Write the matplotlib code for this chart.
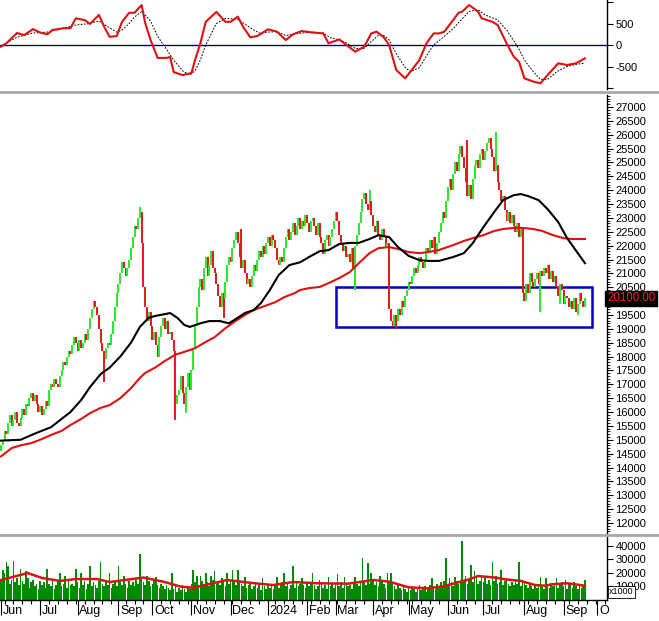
import numpy as np
import pandas as pd
import matplotlib
matplotlib.use("Agg")
import matplotlib.pyplot as plt
from matplotlib.collections import LineCollection
from matplotlib.patches import Rectangle
from matplotlib.lines import Line2D
from matplotlib.ticker import MultipleLocator, FixedLocator
import matplotlib.transforms as mtransforms

plt.rcParams['font.family'] = ['Liberation Sans', 'DejaVu Sans']

# ---------------- data ----------------
first_open = 14600
closes = [
    14800, 15000, 15300, 15200, 15600, 15900, 15500, 15700, 16000, 15600,
    15500, 15800, 16100, 15900, 16300, 16200, 16500, 16700, 16400, 16600,
    16300, 16000, 16200, 15900, 16100, 16400, 16200, 16800, 17000, 16900,
    17200, 17000, 16900, 17300, 17500, 17800, 17700, 18000, 18200, 18100,
    18400, 18700, 18500, 18200, 18600, 18300, 18500, 18800, 18600, 19000,
    19400, 19700, 20000, 19800, 19500, 19000, 18500, 18200, 17900, 18300,
    18500, 18400, 18800, 19300, 19800, 20300, 20600, 21000, 21400, 21200,
    20900, 21200, 21500, 21900, 22300, 22700, 22600, 23000, 23200, 22100,
    20500, 19800, 19300, 19600, 19100, 18600, 18900, 18400, 18000, 18700,
    19100, 19400, 19000, 19300, 18800, 18900, 18600, 18200, 16300, 16600,
    16800, 17300, 16700, 16300, 16900, 17400, 16800, 17500, 18300, 19100,
    19800, 20500, 20800, 20400, 21200, 21600, 20900, 21300, 21800, 21200,
    21000, 20600, 20200, 19800, 20300, 20100, 20700, 21300, 21600, 21400,
    21900, 22200, 22500, 22100, 21600, 21200, 21500, 21000, 20600, 20800,
    20500, 20900, 21300, 21100, 21500, 21800, 21600, 22000, 21700, 22100,
    22300, 22000, 22400, 22200, 21900, 21500, 21300, 21600, 21400, 21900,
    22300, 22600, 22200, 22500, 22800, 22400, 22700, 23000, 22600, 22900,
    22700, 23100, 22800, 22500, 22900, 23000, 22700, 22400, 22800, 22300,
    22100, 21700, 22200, 22400, 22000, 22300, 22600, 22900, 23200, 22900,
    22400, 22100, 21800, 22000, 21600, 21700, 21400, 21900, 21200, 22000,
    22400, 22800, 23200, 23700, 23900, 23500, 23300, 23600, 23100, 22700,
    22500, 22900, 22400, 22200, 22600, 22300, 22000, 22100, 19700, 19300,
    19100, 19500, 19300, 19700, 19500, 20000, 19800, 20200, 20400, 20700,
    20600, 20900, 21200, 21000, 21300, 21600, 21400, 21200, 21500, 21900,
    21800, 22200, 21900, 22300, 21700, 22100, 22500, 22800, 23200, 23000,
    23600, 24100, 24400, 24000, 24600, 25000, 24700, 25300, 25600, 25200,
    24800, 24300, 23800, 24200, 23700, 24400, 24900, 25100, 24800, 25300,
    25500, 25100, 25400, 25700, 25900, 25500, 25200, 24700, 24900, 24300,
    24000, 23600, 23800, 23300, 22900, 23200, 22800, 23100, 22700, 22500,
    22800, 22300, 22600, 20300, 20000, 20600, 20300, 21000, 20700, 20500,
    20800, 21000, 20600, 21100, 20900, 21200, 21000, 21300, 20800, 21100,
    20700, 20900, 20500, 20200, 20600, 20400, 19900, 20200, 20100, 19800,
    20000, 19700, 20100, 19600, 19900, 20300, 20000, 19800, 20100,
]
wick_bars = [58, 78, 98, 104, 125, 135, 199, 207, 222, 262, 278, 303, 314, 324]
wick_prices = [17100, 23400, 15700, 15950, 19400, 22600, 20400, 24000, 19000,
               25800, 26100, 19600, 19900, 19500]

volumes_k = [
    14, 22, 20, 28, 25, 12, 15, 29, 13, 16,
    11, 23, 14, 12, 21, 16, 9, 13, 15, 10,
    12, 8, 14, 11, 13, 9, 23, 12, 10, 14,
    8, 11, 13, 20, 10, 12, 18, 9, 14, 11,
    12, 10, 23, 13, 9, 20, 11, 14, 8, 12,
    25, 10, 13, 11, 9, 14, 28, 12, 10, 13,
    11, 20, 9, 12, 14, 10, 25, 13, 11, 18,
    12, 9, 14, 11, 13, 10, 15, 12, 34, 16,
    13, 11, 18, 14, 10, 12, 15, 17, 11, 9,
    12, 10, 8, 11, 9, 7, 20, 8, 10, 6,
    9, 7, 11, 8, 6, 10, 8, 12, 22, 13,
    18, 11, 18, 14, 12, 20, 13, 10, 18, 15,
    21, 12, 14, 11, 16, 13, 10, 20, 12, 14,
    22, 13, 11, 22, 15, 12, 10, 17, 9, 11,
    13, 8, 10, 12, 9, 11, 7, 16, 10, 8,
    11, 9, 12, 8, 10, 17, 9, 11, 13, 20,
    10, 12, 8, 11, 25, 9, 13, 10, 12, 16,
    11, 9, 13, 10, 12, 20, 11, 8, 10, 15,
    12, 9, 11, 8, 17, 10, 12, 9, 11, 19,
    10, 13, 9, 17, 12, 10, 11, 8, 13, 17,
    12, 10, 14, 31, 13, 11, 27, 12, 20, 14,
    11, 13, 10, 18, 14, 12, 9, 20, 13, 20,
    12, 10, 8, 11, 9, 7, 10, 8, 6, 9,
    7, 10, 8, 6, 9, 11, 7, 8, 10, 6,
    9, 11, 16, 10, 8, 12, 9, 13, 11, 14,
    31, 12, 16, 13, 10, 17, 14, 12, 15, 43,
    14, 18, 12, 15, 26, 13, 21, 16, 12, 14,
    17, 13, 16, 12, 15, 11, 28, 14, 18, 12,
    13, 22, 11, 14, 15, 12, 10, 13, 11, 14,
    12, 28, 10, 14, 13, 11, 9, 12, 10, 8,
    11, 9, 12, 17, 10, 8, 16, 11, 9, 12,
    10, 12, 16, 9, 11, 13, 10, 15, 8, 12,
    11, 9, 13, 10, 8, 12, 9, 11, 15,
]

ma_short_bars = [0, 11, 20, 28, 34, 39, 45, 50, 56, 61, 67, 73, 78, 83, 87, 92, 95, 99, 103, 106,
                 112, 117, 123, 128, 133, 137, 142, 146, 151, 156, 162, 168, 173, 179, 184, 190,
                 196, 201, 207, 212, 218, 223, 229, 235, 240, 246, 254, 260, 265, 271, 277, 282,
                 288, 292, 296, 302, 307, 313, 318, 324, 328]
ma_short = [14970, 15000, 15250, 15450, 15750, 16000, 16430, 16900, 17370, 17600, 18000, 18500,
            19070, 19400, 19470, 19530, 19570, 19400, 19140, 19070, 19200, 19280, 19280, 19200,
            19400, 19570, 19680, 19930, 20400, 20940, 21300, 21400, 21590, 21800, 21840, 22060,
            22100, 22100, 22240, 22380, 22310, 21950, 21630, 21480, 21450, 21450, 21590, 21730,
            22090, 22670, 23210, 23640, 23820, 23860, 23790, 23640, 23320, 22850, 22270, 21730,
            21370]
ma_long_bars = [0, 6, 11, 17, 22, 28, 34, 39, 45, 50, 56, 61, 67, 73, 78, 81, 87, 92, 98, 103,
                109, 115, 120, 126, 131, 137, 142, 148, 154, 159, 165, 168, 173, 179, 184, 190,
                196, 201, 207, 212, 218, 223, 229, 235, 240, 246, 249, 254, 260, 265, 271, 277,
                282, 288, 293, 299, 304, 310, 316, 321, 328]
ma_long = [14400, 14700, 14800, 14880, 15000, 15170, 15320, 15530, 15750, 15960, 16150, 16250,
           16500, 16860, 17230, 17410, 17620, 17840, 18070, 18170, 18300, 18530, 18700, 19020,
           19250, 19500, 19680, 19820, 19960, 20140, 20290, 20400, 20470, 20510, 20650, 20830,
           21050, 21370, 21730, 21910, 21950, 21880, 21770, 21730, 21770, 21840, 21910, 22020,
           22170, 22270, 22380, 22530, 22600, 22640, 22640, 22600, 22530, 22380, 22270, 22240,
           22240]

vol_ma_bars = [0, 15, 23, 33, 42, 54, 61, 80, 92, 101, 108, 127, 141, 153, 164, 178, 195, 209,
               218, 229, 240, 247, 255, 263, 268, 278, 283, 292, 300, 306, 309, 318, 328]
vol_ma_k = [14.7, 19.8, 16.2, 14.0, 15.4, 15.4, 13.2, 16.5, 13.2, 9.8, 9.0, 14.7, 12.5, 11.0,
            13.2, 12.3, 12.0, 14.7, 13.5, 9.3, 8.6, 9.8, 12.3, 15.2, 17.6, 16.4, 15.2, 14.0,
            11.0, 10.5, 11.5, 12.3, 10.5]

macd_bars = [0, 3, 9, 13, 18, 22, 26, 29, 35, 39, 42, 47, 50, 55, 58, 61, 65, 68, 72, 75, 79,
             81, 84, 88, 93, 95, 97, 102, 107, 109, 112, 115, 121, 126, 129, 133, 136, 140, 144,
             150, 155, 160, 164, 169, 174, 181, 184, 190, 194, 199, 204, 208, 211, 215, 218, 222,
             227, 230, 235, 239, 243, 246, 249, 254, 257, 259, 263, 268, 270, 276, 279, 284, 288,
             291, 294, 299, 303, 307, 313, 318, 323, 328]
macd = [-40, 40, 280, 230, 370, 290, 250, 350, 390, 390, 620, 580, 490, 700, 420, 190, 210, 540,
        750, 750, 930, 510, 120, -300, -300, -280, -630, -700, -650, -350, 40, 540, 770, 540,
        540, 660, 425, 180, 210, 365, 310, 115, 250, 325, 295, 270, 40, 130, 0, -155, -40, 270,
        310, 180, 0, -580, -775, -620, -350, 40, 270, 270, 310, 580, 750, 775, 930, 775, 620,
        540, 465, 40, -270, -390, -775, -850, -890, -700, -425, -465, -425, -310]
signal_bars = [0, 9, 18, 26, 35, 42, 50, 55, 61, 65, 68, 72, 75, 79, 84, 88, 93, 97, 102, 106,
               109, 112, 115, 121, 126, 133, 140, 145, 150, 155, 160, 165, 174, 181, 185, 190,
               194, 199, 204, 208, 212, 215, 218, 222, 227, 230, 235, 239, 243, 249, 254, 257,
               263, 268, 272, 279, 284, 288, 291, 294, 299, 303, 307, 313, 318, 323, 328]
signal = [-20, 180, 280, 300, 390, 465, 500, 560, 400, 300, 350, 500, 650, 780, 560, 200, -100,
          -350, -600, -700, -600, -350, 0, 500, 620, 600, 400, 280, 300, 310, 220, 260, 300, 280,
          170, 120, 50, -80, -80, 80, 230, 220, 120, -200, -520, -620, -530, -250, 0, 200, 380,
          520, 780, 820, 700, 580, 350, 100, -100, -350, -620, -800, -800, -600, -500, -450, -420]

last_price = 20100
box_bars = [188, 332]
box_prices = [19050, 20500]

holidays = ['2023-09-01', '2023-09-04', '2024-01-01', '2024-02-08', '2024-02-09',
            '2024-02-12', '2024-02-13', '2024-02-14', '2024-04-18', '2024-04-30',
            '2024-05-01', '2024-09-02', '2024-09-03']
month_names = ['Jan', 'Feb', 'Mar', 'Apr', 'May', 'Jun', 'Jul', 'Aug', 'Sep', 'Oct', 'Nov', 'Dec']

# ---------------- figure ----------------
W, H = 659, 621
fig = plt.figure(figsize=(W / 100, H / 100), dpi=100)
fig.patch.set_facecolor('white')
AX_R = 607


def rect(top, bot):
    return [0, 1 - bot / H, AX_R / W, (bot - top) / H]


ax_m = fig.add_axes(rect(0, 89))
ax_p = fig.add_axes(rect(95, 533))
ax_v = fig.add_axes(rect(537, 600))

xlim = (-0.56, 340.4)
for ax in (ax_m, ax_p, ax_v):
    ax.set_xlim(*xlim)
    for s in ('left', 'top', 'bottom'):
        ax.spines[s].set_visible(False)
    ax.spines['right'].set_linewidth(1.0)
    ax.yaxis.tick_right()
    ax.tick_params(axis='y', direction='out', length=4, width=0.8, labelsize=8, pad=2)
    ax.tick_params(axis='x', bottom=False, labelbottom=False)
    ax.set_facecolor('white')

# ---- MACD ----
ax_m.set_ylim(-1023, 1047)
ax_m.axhline(0, color='#000080', lw=1.0)
ax_m.plot(signal_bars, signal, color='black', lw=0.7, ls=(0, (1.8, 1.5)))
ax_m.plot(macd_bars, macd, color='#dd1111', lw=1.5)
ax_m.yaxis.set_major_locator(FixedLocator([-1000, -500, 0, 500, 1000]))
ax_m.set_yticklabels(['', '-500', '0', '500', ''])

# ---- Price ----
ax_p.set_ylim(11638, 27433)
n = len(closes)
opens = [first_open] + closes[:-1]
wick = dict(zip(wick_bars, wick_prices))
segs, cols = [], []
for i in range(n):
    o, c = opens[i], closes[i]
    lo, hi = min(o, c), max(o, c)
    if i in wick:
        lo = min(lo, wick[i])
        hi = max(hi, wick[i])
    segs.append([(i, lo), (i, hi)])
    cols.append('#2ee62e' if c >= o else '#e01818')
ax_p.add_collection(LineCollection(segs, colors=cols, linewidths=1.4))
ax_p.plot(ma_long_bars, ma_long, color='#dd1111', lw=1.5)
ax_p.plot(ma_short_bars, ma_short, color='black', lw=1.5)
ax_p.add_patch(Rectangle((box_bars[0], box_prices[0]), box_bars[1] - box_bars[0],
                         box_prices[1] - box_prices[0], fill=False, edgecolor='#0000cc', lw=1.8))
ax_p.yaxis.set_major_locator(MultipleLocator(500))
ax_p.yaxis.set_minor_locator(MultipleLocator(100))
ax_p.tick_params(axis='y', which='minor', direction='out', length=2, width=0.6)
ax_p.yaxis.set_major_formatter(matplotlib.ticker.FuncFormatter(lambda v, p: f'{int(v)}'))
trans = mtransforms.blended_transform_factory(ax_p.transAxes, ax_p.transData)
ax_p.text(1.0, last_price, f'{last_price:.2f}', transform=trans, ha='left', va='center',
          color='#ff2020', fontsize=8.3, zorder=10, clip_on=False,
          bbox=dict(boxstyle='square,pad=0.15', facecolor='black', edgecolor='black'))

# ---- Volume ----
vol = np.array(volumes_k) * 1000
ax_v.set_ylim(0, 46300)
ax_v.bar(np.arange(len(vol)), vol, width=0.9, color='#008a00', linewidth=0)
ax_v.plot(vol_ma_bars, np.array(vol_ma_k) * 1000, color='#dd1111', lw=1.8)
ax_v.yaxis.set_major_locator(FixedLocator([10000, 20000, 30000, 40000]))
ax_v.yaxis.set_major_formatter(matplotlib.ticker.FuncFormatter(lambda v, p: f'{int(v)}'))
ax_v.spines['bottom'].set_visible(True)
ax_v.spines['bottom'].set_linewidth(1.0)

# trading calendar for month / week ticks
days = pd.bdate_range('2023-06-01', '2024-10-15')
days = days[~days.isin(pd.to_datetime(holidays))]
idx = np.arange(len(days))
month_start = [i for i in idx if i == 0 or days[i].month != days[i - 1].month]
week_start = [i for i in idx if i > 0 and days[i].weekday() < days[i - 1].weekday()]
month_start = [i for i in month_start if i <= xlim[1]]
week_start = [i for i in week_start if i <= xlim[1]]
ax_v.xaxis.set_major_locator(FixedLocator(month_start))
ax_v.xaxis.set_minor_locator(FixedLocator(week_start))
ax_v.tick_params(axis='x', which='major', bottom=True, direction='out', length=11, width=0.8,
                 labelbottom=False)
ax_v.tick_params(axis='x', which='minor', bottom=True, direction='out', length=3, width=0.8)
for i in month_start:
    d = days[i]
    lab = str(d.year) if d.month == 1 else month_names[d.month - 1]
    if i > 330:
        lab = lab[0]
    ax_v.text(i + 0.9, -0.17, lab, transform=mtransforms.blended_transform_factory(
        ax_v.transData, ax_v.transAxes), ha='left', va='center', fontsize=9)

fig.text(609 / W, 1 - 592 / H, 'x1000', fontsize=6.5, ha='left', va='center', zorder=10,
         bbox=dict(boxstyle='square,pad=0.15', facecolor='white', edgecolor='black', lw=0.6))

# panel separators
for ypx in (91.5, 535):
    fig.add_artist(Line2D([0, 1], [1 - ypx / H] * 2, color='#a8a8a8', lw=2.0))

fig.savefig('out.png', dpi=100)
